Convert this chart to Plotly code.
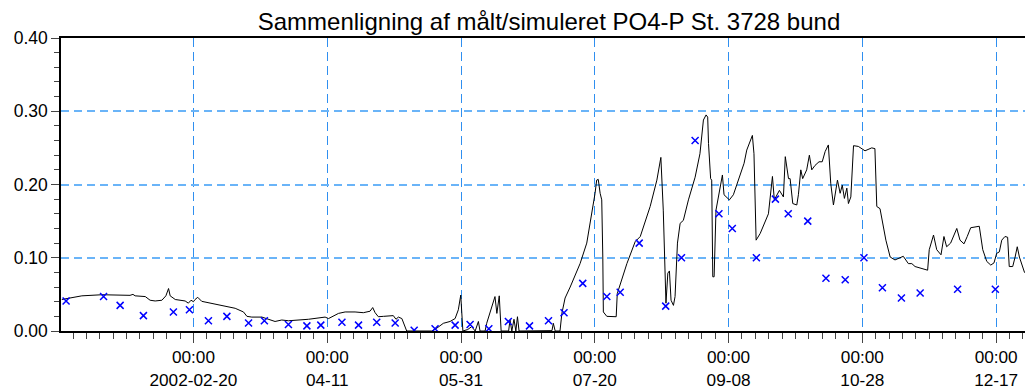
import pandas as pd
import plotly.graph_objects as go

# Simulated PO4-P (bottom layer), day offset from 2002-01-01 and value
sim_day = [0.8, 8.3, 15.8, 26.3, 27.4, 28.2, 32.0, 33.8, 35.7, 38.2, 39.7, 40.7, 41.3, 43.2,
           46.9, 48.1, 49.1, 50.0, 50.6, 51.6, 53.1, 58.1, 65.6, 68.7, 70.0, 71.8, 75.6, 80.5,
           83.0, 85.5, 93.0, 99.2, 100.5, 104.2, 106.7, 110.4, 113.5, 116.0, 117.0, 117.9,
           119.1, 121.0, 123.5, 124.7, 125.7, 126.6, 127.9, 129.7, 139.1, 141.0, 143.4, 145.9,
           147.8, 149.0, 149.9, 150.7, 152.5, 154.0, 155.3, 156.5, 157.1, 159.0, 159.6, 161.5,
           162.7, 163.4, 164.3, 165.0, 167.8, 168.3, 169.0, 169.8, 170.5, 171.1, 171.7, 184.0,
           184.5, 185.2, 187.0, 187.7, 188.9, 190.8, 192.0, 194.5, 197.0, 198.9, 200.1, 200.7,
           201.3, 202.0, 202.6, 203.0, 203.2, 204.5, 208.0, 208.4, 210.1, 212.0, 215.1, 217.0,
           220.7, 223.2, 224.7, 225.6, 226.6, 227.3, 227.9, 228.5, 229.4, 230.0, 230.9, 231.9,
           233.1, 235.0, 237.5, 239.3, 240.6, 241.6, 242.2, 242.5, 243.3, 243.7, 244.1, 244.6,
           245.3, 246.8, 247.7, 248.3, 250.3, 251.8, 253.7, 255.8, 256.8, 258.0, 258.9, 259.5,
           260.3, 261.8, 264.9, 266.4, 267.1, 269.0, 270.5, 271.2, 272.4, 273.0, 274.0, 275.5,
           276.1, 277.0, 277.7, 279.2, 280.2, 281.1, 282.3, 283.8, 285.0, 286.1, 287.3, 288.2,
           289.2, 290.7, 291.7, 292.5, 293.3, 294.2, 294.8, 295.7, 296.7, 298.5, 301.0, 303.5,
           304.7, 305.4, 306.6, 308.8, 310.4, 312.2, 315.3, 317.2, 318.5, 319.7, 321.6, 324.4,
           325.0, 326.6, 327.8, 329.4, 330.5, 331.5, 333.0, 334.0, 335.3, 336.5, 338.0, 339.2,
           340.5, 343.7, 345.0, 346.5, 348.0, 349.2, 350.2, 351.2, 352.1, 353.3, 354.3, 354.9,
           356.2, 357.1, 357.9, 358.7, 360.6, 362.0]
sim_val = [0.043, 0.048, 0.0495, 0.0487, 0.050, 0.048, 0.047, 0.042, 0.041, 0.042, 0.048, 0.058,
           0.048, 0.043, 0.041, 0.038, 0.042, 0.040, 0.043, 0.046, 0.0405, 0.037, 0.031, 0.026,
           0.020, 0.019, 0.019, 0.013, 0.015, 0.014, 0.016, 0.019, 0.017, 0.024, 0.026, 0.026,
           0.025, 0.027, 0.032, 0.025, 0.0195, 0.020, 0.020, 0.021, 0.016, 0.019, 0.017, 0.000,
           0.000, 0.004, 0.0105, 0.013, 0.017, 0.029, 0.049, 0.000, 0.002, 0.006, 0.000, 0.013,
           0.000, 0.000, 0.0105, 0.033, 0.047, 0.024, 0.048, 0.000, 0.000, 0.015, 0.000, 0.016,
           0.000, 0.0195, 0.000, 0.0005, 0.0105, 0.000, 0.000, 0.024, 0.045, 0.060, 0.070,
           0.092, 0.120, 0.160, 0.188, 0.206, 0.207, 0.188, 0.179, 0.101, 0.026, 0.020, 0.0195,
           0.051, 0.072, 0.092, 0.122, 0.129, 0.170, 0.206, 0.237, 0.165, 0.038, 0.079, 0.082,
           0.042, 0.035, 0.047, 0.120, 0.147, 0.151, 0.179, 0.210, 0.242, 0.288, 0.295, 0.292,
           0.256, 0.208, 0.206, 0.074, 0.074, 0.165, 0.195, 0.213, 0.186, 0.179, 0.186, 0.208,
           0.229, 0.247, 0.258, 0.267, 0.242, 0.124, 0.133, 0.160, 0.211, 0.179, 0.192, 0.183,
           0.238, 0.208, 0.208, 0.174, 0.172, 0.186, 0.220, 0.208, 0.220, 0.240, 0.220, 0.226,
           0.231, 0.231, 0.245, 0.254, 0.201, 0.172, 0.206, 0.188, 0.199, 0.181, 0.195, 0.174,
           0.183, 0.253, 0.252, 0.246, 0.250, 0.249, 0.170, 0.167, 0.124, 0.101, 0.097, 0.102,
           0.092, 0.092, 0.088, 0.086, 0.083, 0.111, 0.131, 0.111, 0.104, 0.129, 0.115, 0.120,
           0.129, 0.140, 0.124, 0.119, 0.129, 0.141, 0.143, 0.111, 0.095, 0.090, 0.093, 0.106,
           0.108, 0.124, 0.129, 0.128, 0.088, 0.088, 0.101, 0.115, 0.101, 0.080, 0.078]

# Measured PO4-P samples, day offset from 2002-01-01 and value
obs_day = [2.4, 16.4, 22.6, 31.3, 42.5, 48.5, 55.6, 62.5, 70.6, 76.5, 85.5, 92.4, 97.6, 105.5,
           111.7, 118.5, 125.4, 132.5, 140.3, 147.8, 153.4, 160.4, 167.7, 175.6, 182.7, 188.5,
           195.5, 204.5, 209.5, 216.6, 226.5, 232.4, 237.5, 246.4, 251.4, 260.4, 267.5, 272.3,
           279.6, 286.4, 293.6, 300.6, 307.5, 314.6, 321.6, 335.6, 349.7]
obs_val = [0.041, 0.047, 0.035, 0.021, 0.026, 0.029, 0.014, 0.020, 0.011, 0.014, 0.009, 0.007,
           0.008, 0.012, 0.008, 0.012, 0.011, 0.001, 0.003, 0.008, 0.009, 0.003, 0.013, 0.007,
           0.014, 0.025, 0.065, 0.047, 0.053, 0.120, 0.034, 0.100, 0.260, 0.160, 0.140, 0.100,
           0.180, 0.160, 0.150, 0.072, 0.070, 0.100, 0.059, 0.045, 0.052, 0.057, 0.057]

x_tick_vals = ["2002-02-20", "2002-04-11", "2002-05-31", "2002-07-20",
               "2002-09-08", "2002-10-28", "2002-12-17"]
x_tick_text = ["00:00<br>2002-02-20", "00:00<br>04-11", "00:00<br>05-31", "00:00<br>07-20",
               "00:00<br>09-08", "00:00<br>10-28", "00:00<br>12-17"]

start = pd.Timestamp("2002-01-01")
sim_x = start + pd.to_timedelta(sim_day, unit="D")
obs_x = start + pd.to_timedelta(obs_day, unit="D")

DAY_MS = 86400000
FONT = "Liberation Sans, Arial, Helvetica, sans-serif"

fig = go.Figure()
fig.add_trace(go.Scatter(
    x=sim_x, y=sim_val, mode="lines",
    line=dict(color="black", width=1), name="Simuleret", hoverinfo="x+y",
))
fig.add_trace(go.Scatter(
    x=obs_x, y=obs_val, mode="markers",
    marker=dict(symbol="x-thin", size=7, color="#0000ff",
                line=dict(color="#0000ff", width=1.5)),
    name="Målt",
))

fig.update_layout(
    width=1025, height=389,
    margin=dict(l=61, r=0, t=38, b=58, pad=0),
    paper_bgcolor="white", plot_bgcolor="white",
    showlegend=False,
    font=dict(family=FONT, color="black"),
    title=dict(text="Sammenligning af målt/simuleret PO4-P St. 3728 bund",
               font=dict(family=FONT, size=24, color="black"),
               xref="container", x=549 / 1025, xanchor="center",
               yref="container", y=1 - 22 / 389, yanchor="middle"),
)

fig.update_xaxes(
    type="date", automargin=False,
    range=["2002-01-01 12:00", "2002-12-27 19:00"],
    tickmode="array", tickvals=x_tick_vals, ticktext=x_tick_text,
    ticks="outside", ticklen=10, tickwidth=1, tickcolor="#444444",
    tickfont=dict(family=FONT, size=17.2, color="black"),
    showline=True, linecolor="black", linewidth=1.5, mirror=True,
    showgrid=True, gridcolor="#2f8ff0", gridwidth=1, griddash="9px,5px",
    minor=dict(tick0="2002-02-20", dtick=5 * DAY_MS, ticks="outside", ticklen=6,
               tickwidth=1, tickcolor="#444444", showgrid=False),
    zeroline=False,
)
fig.update_yaxes(
    automargin=False,
    range=[0, 0.40], tickmode="linear", tick0=0, dtick=0.1, tickformat=".2f",
    ticks="outside", ticklen=8, tickwidth=1, tickcolor="#444444",
    tickfont=dict(family=FONT, size=17.5, color="black"),
    showline=True, linecolor="black", linewidth=1.5, mirror=False,
    showgrid=True, gridcolor="#6ab4f8", gridwidth=1.5, griddash="8px,5px",
    minor=dict(dtick=0.02, ticks="outside", ticklen=5, tickwidth=1,
               tickcolor="#444444", showgrid=False),
    zeroline=False,
)

fig.write_html("out.html", config={"displayModeBar": False})
